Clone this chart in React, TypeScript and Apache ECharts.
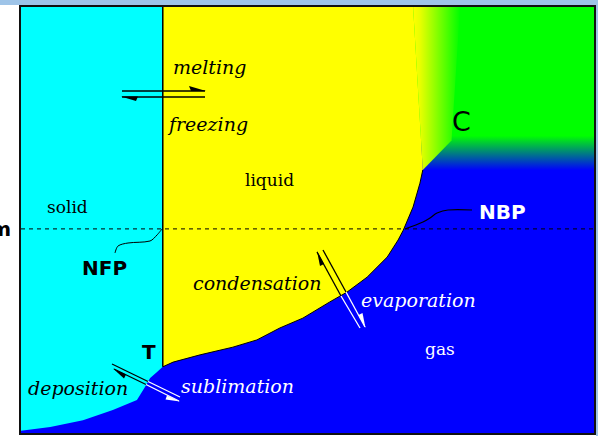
import React, { useEffect, useRef } from "react";
import * as echarts from "echarts";

// Phase diagram data, in arbitrary units: temperature (x, 0-100) and pressure (y, 0-100)
const oneAtm = 47.8;

// solid / liquid boundary (melting curve, vertical)
const meltingCurve: [number, number][] = [
  [24.7, 15.5],
  [24.7, 100],
];

// liquid / gas boundary (vapour pressure curve), triple point -> critical point
const vaporCurve: [number, number][] = [
  [24.7, 15.5],
  [26.5, 16.6],
  [31.2, 18.3],
  [36.9, 20.1],
  [41.1, 21.8],
  [45.1, 24.6],
  [49.1, 26.9],
  [53.8, 30.7],
  [56.8, 33.0],
  [60.3, 36.5],
  [63.8, 41.2],
  [65.7, 45.2],
  [66.6, 47.5],
  [67.2, 49.4],
  [68.3, 52.9],
  [69.5, 58.5],
  [70.0, 61.6],
];

// solid / gas boundary (sublimation curve), triple point -> low T
const sublimationCurve: [number, number][] = [
  [24.7, 15.5],
  [23.7, 14.3],
  [22.5, 12.9],
  [21.6, 10.8],
  [20.2, 7.7],
  [16.0, 5.4],
  [10.8, 3.0],
  [5.1, 1.4],
  [0, 0.5],
];

// region outlines built from the curves
const plotRect: [number, number][] = [
  [0, 0],
  [100, 0],
  [100, 100],
  [0, 100],
];
const supercriticalRect: [number, number][] = [
  [66, 59.5],
  [100, 59.5],
  [100, 100],
  [66, 100],
];
const liquidTop: [number, number] = [68.3, 100];
const transitionZone: [number, number][] = [
  [68.3, 100],
  [76.5, 100],
  [75.0, 68.5],
  [70.0, 61.6],
];

const solidRegion: [number, number][] = [
  [0, 100],
  [24.7, 100],
  ...sublimationCurve,
];
const liquidRegion: [number, number][] = [
  [24.7, 100],
  ...vaporCurve,
  liquidTop,
];

const CYAN = "#00ffff";
const YELLOW = "#ffff00";
const GREEN = "#00ff00";
const BLUE = "#0000ff";

function polySeries(points: [number, number][], fill: any, name: string) {
  return {
    type: "custom",
    name,
    silent: true,
    clip: true,
    data: [0],
    renderItem: (_p: any, api: any) => ({
      type: "polygon",
      shape: { points: points.map((pt) => api.coord(pt)) },
      style: { fill },
    }),
  };
}

function lineSeries(points: [number, number][], style: any) {
  return {
    type: "line",
    silent: true,
    symbol: "none",
    data: points,
    lineStyle: style,
  };
}

export default function App() {
  const ref = useRef<HTMLDivElement>(null);

  useEffect(() => {
    if (!ref.current) return;
    const chart = echarts.init(ref.current, null, { renderer: "svg" });

    const serifItalic = (text: string, x: number, y: number, fill: string) => ({
      type: "text",
      z: 100,
      x,
      y,
      style: {
        text,
        fill,
        fontFamily: "DejaVu Serif",
        fontStyle: "italic",
        fontSize: 19,
        align: "left",
        verticalAlign: "middle",
      },
    });
    const serif = (text: string, x: number, y: number, fill: string) => ({
      type: "text",
      z: 100,
      x,
      y,
      style: {
        text,
        fill,
        fontFamily: "DejaVu Serif",
        fontSize: 17,
        align: "left",
        verticalAlign: "middle",
      },
    });
    const sansBold = (text: string, x: number, y: number, fill: string, size = 20, weight = "bold", align = "left") => ({
      type: "text",
      z: 100,
      x,
      y,
      style: {
        text,
        fill,
        fontFamily: "DejaVu Sans",
        fontWeight: weight,
        fontSize: size,
        align,
        verticalAlign: "middle",
      },
    });
    const seg = (x1: number, y1: number, x2: number, y2: number, stroke: string, w = 1.2) => ({
      type: "line",
      z: 100,
      shape: { x1, y1, x2, y2 },
      style: { stroke, lineWidth: w },
    });
    const tri = (pts: number[][], fill: string) => ({
      type: "polygon",
      z: 100,
      shape: { points: pts },
      style: { fill },
    });

    chart.setOption({
      animation: false,
      grid: { left: 21, top: 6, right: 3, bottom: 3 },
      xAxis: { type: "value", min: 0, max: 100, show: false },
      yAxis: { type: "value", min: 0, max: 100, show: false },
      series: [
        polySeries(plotRect, BLUE, "gas"),
        polySeries(
          supercriticalRect,
          new echarts.graphic.LinearGradient(0, 1, 0, 0, [
            { offset: 0, color: BLUE },
            { offset: 0.05, color: BLUE },
            { offset: 0.25, color: GREEN },
            { offset: 1, color: GREEN },
          ]),
          "supercritical"
        ),
        polySeries(
          transitionZone,
          new echarts.graphic.LinearGradient(0, 0, 1, 0, [
            { offset: 0, color: YELLOW },
            { offset: 0.15, color: "#e8ff00" },
            { offset: 1, color: GREEN },
          ]),
          "transition"
        ),
        polySeries(liquidRegion, YELLOW, "liquid"),
        polySeries(solidRegion, CYAN, "solid"),
        lineSeries(vaporCurve, { color: "#000", width: 1 }),
        lineSeries(meltingCurve, { color: "#000", width: 1.5 }),
        lineSeries(
          [
            [0, oneAtm],
            [100, oneAtm],
          ],
          { color: "#000", width: 1, type: [4, 4] }
        ),
      ],
      graphic: [
        // window chrome
        { type: "rect", z: 90, shape: { x: 0, y: 0, width: 598, height: 5 }, style: { fill: "#9ec4e8" } },
        { type: "rect", z: 90, shape: { x: 596, y: 0, width: 2, height: 436 }, style: { fill: "#9ec4e8" } },
        // frame
        {
          type: "rect",
          z: 95,
          shape: { x: 20, y: 6, width: 575, height: 428 },
          style: { fill: null, stroke: "#111", lineWidth: 2 },
        },
        // leader lines
        {
          type: "polyline",
          z: 100,
          shape: {
            points: [
              [115, 253],
              [118, 246],
              [128, 243],
              [150, 241],
              [157, 235],
              [162, 229],
            ],
            smooth: 0.3,
          },
          style: { stroke: "#000", lineWidth: 1, fill: null },
        },
        {
          type: "polyline",
          z: 100,
          shape: {
            points: [
              [405, 229],
              [423, 222],
              [430, 218],
              [437, 213],
              [448, 210],
              [472, 210],
            ],
            smooth: 0.3,
          },
          style: { stroke: "#000", lineWidth: 1.2, fill: null },
        },
        // melting / freezing arrows
        seg(122, 91, 205, 91, "#000", 1.3),
        tri([[189, 86], [206, 91], [191, 91]], "#000"),
        seg(122, 97, 205, 97, "#000", 1.3),
        tri([[121, 96.5], [138, 96.5], [136, 101]], "#000"),
        // condensation / evaporation arrows
        seg(317, 252, 341, 296, "#000", 1.3),
        seg(341, 296, 360, 328, "#fff", 1.3),
        seg(323, 250, 346, 292, "#000", 1.3),
        seg(346, 292, 365, 327, "#fff", 1.3),
        tri([[317, 251], [324, 264], [320, 266]], "#000"),
        tri([[365.5, 328], [358.5, 315], [362.5, 313]], "#fff"),
        // deposition / sublimation arrows
        seg(112, 364, 148, 381.5, "#000", 1.3),
        seg(148, 381.5, 180, 397, "#fff", 1.3),
        seg(114, 369, 146, 384.5, "#000", 1.3),
        seg(146, 384.5, 179, 401, "#fff", 1.3),
        tri([[113, 368.5], [126, 374.5], [124, 378.5]], "#000"),
        tri([[180, 401.5], [167, 395.5], [165.5, 399.5]], "#fff"),
        // labels
        serifItalic("melting", 173, 67, "#000"),
        serifItalic("freezing", 169, 124, "#000"),
        serifItalic("condensation", 193, 283, "#000"),
        serifItalic("evaporation", 361, 300, "#fff"),
        serifItalic("deposition", 28, 388, "#000"),
        serifItalic("sublimation", 181, 386, "#fff"),
        serif("liquid", 245, 180, "#000"),
        serif("solid", 47, 207, "#000"),
        serif("gas", 425, 349, "#fff"),
        sansBold("NFP", 82, 268, "#000"),
        sansBold("NBP", 479, 212, "#fff"),
        sansBold("T", 142, 352, "#000"),
        sansBold("C", 452, 121, "#000", 27, "normal"),
        sansBold("1 atm", 11, 229, "#000", 20, "bold", "right"),
      ],
    });

    return () => chart.dispose();
  }, []);

  return (
    <div
      ref={ref}
      style={{ position: "absolute", left: 0, top: 0, width: 598, height: 436, background: "#fff" }}
    />
  );
}
